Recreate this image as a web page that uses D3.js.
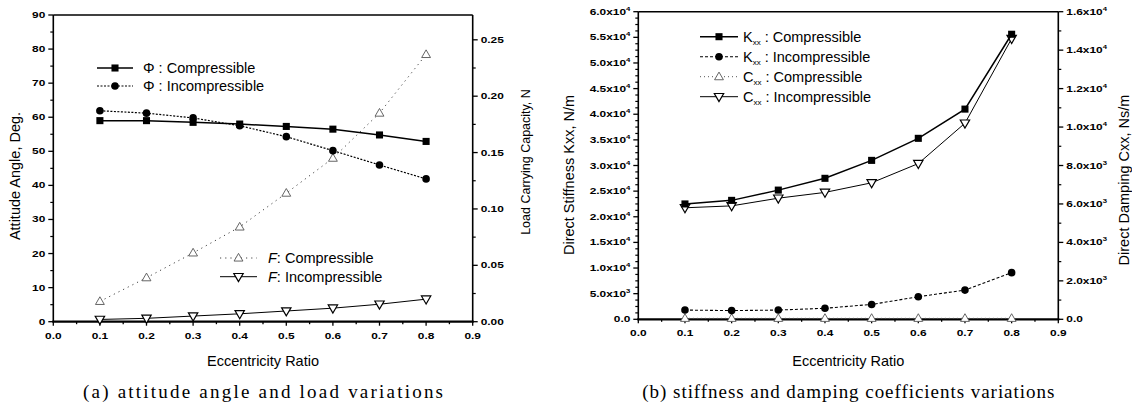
<!DOCTYPE html>
<html lang="en">
<head>
<meta charset="utf-8">
<title>bearing</title>
<script src="https://d3js.org/d3.v7.min.js"></script>
<style>
  body { margin: 0; background: #fff; }
  svg { font-family: Arial, "Liberation Sans", sans-serif; }
</style>
</head>
<body>
<svg id="chart" width="1132" height="410"></svg>
<script>
// eccentricity ratio (both panels)
const ecc = [0.1, 0.2, 0.3, 0.4, 0.5, 0.6, 0.7, 0.8];

// panel (a): attitude angle (deg) and load (N)
const phiComp   = [59.0, 59.0, 58.5, 58.0, 57.3, 56.5, 54.8, 52.9];
const phiIncomp = [61.9, 61.2, 59.8, 57.5, 54.3, 50.2, 46.0, 41.9];
const loadComp   = [0.018, 0.039, 0.061, 0.084, 0.114, 0.145, 0.185, 0.237];
const loadIncomp = [0.002, 0.003, 0.005, 0.007, 0.0095, 0.012, 0.0155, 0.020];

// panel (b): stiffness (N/m) and damping (Ns/m)
const kxxComp   = [22500, 23200, 25200, 27500, 31000, 35300, 41000, 55600];
const kxxIncomp = [1800, 1700, 1800, 2150, 2900, 4400, 5700, 9100];
const cxxComp   = [50, 50, 50, 50, 50, 50, 50, 50];
const cxxIncomp = [5800, 5900, 6300, 6600, 7100, 8100, 10200, 14600];

// tick values
const xTicks = [0, 0.1, 0.2, 0.3, 0.4, 0.5, 0.6, 0.7, 0.8, 0.9];
const angleTicks = [0, 10, 20, 30, 40, 50, 60, 70, 80, 90];
const loadTicks = [0, 0.05, 0.10, 0.15, 0.20, 0.25];
const stiffTicks = [0, 5000, 10000, 15000, 20000, 25000, 30000, 35000, 40000, 45000, 50000, 55000, 60000];
const dampTicks = [0, 2000, 4000, 6000, 8000, 10000, 12000, 14000, 16000];

const svg = d3.select('#chart');

// tick label, squat & wide like the scanned figure
function tickText(g, x, y, anchor, str, sup) {
  let t = g.append('text')
    .attr('transform', 'translate(' + x + ',' + y + ') scale(1.4,1)')
    .attr('text-anchor', anchor)
    .attr('font-size', 8.5)
    .attr('font-weight', 'bold')
    .attr('fill', '#000')
    .text(str);
  if (sup) {
    t.append('tspan').attr('dy', -4).attr('font-size', 5.5).text(sup);
  }
}

function sciLabel(v) {
  if (v === 0) return ['0.0', null];
  let e = Math.floor(Math.log10(v));
  let m = v / Math.pow(10, e);
  return [m.toFixed(1) + 'x10', String(e)];
}

function marker(g, type, x, y) {
  if (type === 'square') {
    g.append('path').attr('d', d3.symbol(d3.symbolSquare, 50)())
      .attr('transform', 'translate(' + x + ',' + y + ')').attr('fill', '#000');
  } else if (type === 'circle') {
    g.append('circle').attr('cx', x).attr('cy', y).attr('r', 3.8).attr('fill', '#000');
  } else if (type === 'up') {
    g.append('path').attr('d', d3.symbol(d3.symbolTriangle, 34)())
      .attr('transform', 'translate(' + x + ',' + (y + 0.5) + ')')
      .attr('fill', '#fff').attr('stroke', '#555').attr('stroke-width', 0.9);
  } else if (type === 'down') {
    g.append('path').attr('d', d3.symbol(d3.symbolTriangle, 38)())
      .attr('transform', 'translate(' + x + ',' + (y - 0.5) + ') rotate(180)')
      .attr('fill', '#fff').attr('stroke', '#000').attr('stroke-width', 1.2);
  }
}

function series(g, x, y, vals, st) {
  let line = d3.line().x((d, i) => x(ecc[i])).y(d => y(d));
  g.append('path').datum(vals).attr('d', line)
    .attr('fill', 'none').attr('stroke', st.color || '#000')
    .attr('stroke-width', st.width).attr('stroke-dasharray', st.dash || null);
  vals.forEach((v, i) => marker(g, st.marker, x(ecc[i]), y(v)));
}

function legendRow(g, x0, x1, tx, y, st, build) {
  g.append('line').attr('x1', x0).attr('x2', x1).attr('y1', y).attr('y2', y)
    .attr('stroke', st.color || '#000').attr('stroke-width', st.width)
    .attr('stroke-dasharray', st.dash || null);
  marker(g, st.marker, (x0 + x1) / 2, y);
  let t = g.append('text').attr('x', tx).attr('y', y + 5).attr('font-size', 14.5);
  build(t);
}

function frame(g, x, yL, yR, cfg) {
  let [x0, x1] = x.range();
  let yBot = yL.range()[0], yTop = yL.range()[1];
  // box lines
  g.append('line').attr('x1', x0).attr('x2', x1).attr('y1', yTop).attr('y2', yTop)
    .attr('stroke', '#000').attr('stroke-width', 1.6);
  g.append('line').attr('x1', x0).attr('x2', x0).attr('y1', yTop).attr('y2', yBot)
    .attr('stroke', '#000').attr('stroke-width', 1.6);
  g.append('line').attr('x1', x1).attr('x2', x1).attr('y1', yTop).attr('y2', yBot)
    .attr('stroke', '#000').attr('stroke-width', 1.6);
  g.append('line').attr('x1', x0 - 1).attr('x2', x1 + 1).attr('y1', yBot).attr('y2', yBot)
    .attr('stroke', '#000').attr('stroke-width', 2.2);

  // x ticks
  xTicks.forEach((t, i) => {
    g.append('line').attr('x1', x(t)).attr('x2', x(t)).attr('y1', yBot).attr('y2', yBot + 4)
      .attr('stroke', '#000').attr('stroke-width', 1.3);
    tickText(g, x(t), yBot + 17, 'middle', t.toFixed(1));
    if (i < xTicks.length - 1) {
      let m = (t + xTicks[i + 1]) / 2;
      g.append('line').attr('x1', x(m)).attr('x2', x(m)).attr('y1', yBot).attr('y2', yBot + 2.5)
        .attr('stroke', '#000').attr('stroke-width', 1.3);
    }
  });

  // left ticks
  cfg.leftTicks.forEach((t, i) => {
    let yy = yL(t);
    g.append('line').attr('x1', x0 - 5).attr('x2', x0).attr('y1', yy).attr('y2', yy)
      .attr('stroke', '#000').attr('stroke-width', 1.3);
    let lab = cfg.leftFmt(t);
    tickText(g, x0 - 8, yy + 3, 'end', lab[0], lab[1]);
    if (i < cfg.leftTicks.length - 1) {
      let step = (cfg.leftTicks[i + 1] - t) / cfg.leftMinor;
      for (let k = 1; k < cfg.leftMinor; k++) {
        let ym = yL(t + k * step);
        g.append('line').attr('x1', x0 - 3).attr('x2', x0).attr('y1', ym).attr('y2', ym)
          .attr('stroke', '#000').attr('stroke-width', 1.2);
      }
    }
  });

  // right ticks
  cfg.rightTicks.forEach((t, i) => {
    let yy = yR(t);
    g.append('line').attr('x1', x1).attr('x2', x1 + 5).attr('y1', yy).attr('y2', yy)
      .attr('stroke', '#000').attr('stroke-width', 1.3);
    let lab = cfg.rightFmt(t);
    tickText(g, x1 + 8, yy + 3, 'start', lab[0], lab[1]);
    let next = i < cfg.rightTicks.length - 1 ? cfg.rightTicks[i + 1] : null;
    if (next !== null) {
      let ym = yR((t + next) / 2);
      g.append('line').attr('x1', x1).attr('x2', x1 + 3).attr('y1', ym).attr('y2', ym)
        .attr('stroke', '#000').attr('stroke-width', 1.2);
    }
  });

  // axis titles
  let xc = (x0 + x1) / 2;
  g.append('text').attr('x', xc).attr('y', 366).attr('text-anchor', 'middle')
    .attr('font-size', 14.5).text('Eccentricity Ratio');
  g.append('text')
    .attr('transform', 'translate(' + cfg.leftTitleX + ',' + cfg.leftTitleY + ') rotate(-90)')
    .attr('text-anchor', 'middle').attr('font-size', cfg.leftTitleSize).text(cfg.leftTitle);
  g.append('text')
    .attr('transform', 'translate(' + cfg.rightTitleX + ',' + cfg.rightTitleY + ') rotate(-90)')
    .attr('text-anchor', 'middle').attr('font-size', cfg.rightTitleSize).text(cfg.rightTitle);
  g.append('text').attr('x', xc).attr('y', 398).attr('text-anchor', 'middle')
    .attr('font-family', '"Liberation Serif", "DejaVu Serif", serif')
    .attr('font-size', 19).attr('textLength', cfg.captionLen).attr('lengthAdjust', 'spacing')
    .text(cfg.caption);
}

// ---------- panel (a)
const gA = svg.append('g');
const xA = d3.scaleLinear().domain([0, 0.9]).range([53.3, 472.7]);
const yA = d3.scaleLinear().domain([0, 90]).range([321.7, 15]);
const yA2 = d3.scaleLinear().domain([0, 0.272]).range([321.7, 15]);

frame(gA, xA, yA, yA2, {
  leftTicks: angleTicks, leftMinor: 2, leftFmt: t => [String(t), null],
  rightTicks: loadTicks, rightFmt: t => [t.toFixed(2), null],
  leftTitle: 'Attitude Angle, Deg.', leftTitleX: 20, leftTitleY: 176, leftTitleSize: 14.5,
  rightTitle: 'Load Carrying Capacity, N', rightTitleX: 530, rightTitleY: 162, rightTitleSize: 12.5,
  caption: '(a) attitude angle and load variations', captionLen: 360
});

const stPhiC = { marker: 'square', width: 1.5 };
const stPhiI = { marker: 'circle', width: 1.2, dash: '2,1.5' };
const stFC = { marker: 'up', width: 1, dash: '1.2,4', color: '#444' };
const stFI = { marker: 'down', width: 1 };

series(gA, xA, yA2, loadComp, stFC);
series(gA, xA, yA, phiIncomp, stPhiI);
series(gA, xA, yA, phiComp, stPhiC);
series(gA, xA, yA2, loadIncomp, stFI);

legendRow(gA, 97, 133, 143, 68, stPhiC, t => t.text('\u03A6 : Compressible'));
legendRow(gA, 97, 133, 143, 86, stPhiI, t => t.text('\u03A6 : Incompressible'));
legendRow(gA, 220, 257, 268, 258, stFC, t => {
  t.append('tspan').attr('font-style', 'italic').text('F');
  t.append('tspan').text(': Compressible');
});
legendRow(gA, 220, 257, 268, 276.7, stFI, t => {
  t.append('tspan').attr('font-style', 'italic').text('F');
  t.append('tspan').text(': Incompressible');
});

// ---------- panel (b)
const gB = svg.append('g');
const xB = d3.scaleLinear().domain([0, 0.9]).range([638.3, 1058.3]);
const yB = d3.scaleLinear().domain([0, 60000]).range([319.3, 11.7]);
const yB2 = d3.scaleLinear().domain([0, 16000]).range([319.3, 11.7]);

frame(gB, xB, yB, yB2, {
  leftTicks: stiffTicks, leftMinor: 4, leftFmt: sciLabel,
  rightTicks: dampTicks, rightFmt: sciLabel,
  leftTitle: 'Direct Stiffness Kxx, N/m', leftTitleX: 574, leftTitleY: 175, leftTitleSize: 14.5,
  rightTitle: 'Direct Damping Cxx, Ns/m', rightTitleX: 1129, rightTitleY: 180, rightTitleSize: 14.5,
  caption: '(b) stiffness and damping coefficients variations', captionLen: 412
});

const stKC = { marker: 'square', width: 1.5 };
const stKI = { marker: 'circle', width: 1.1, dash: '3,2' };
const stCC = { marker: 'up', width: 1, dash: '1,3', color: '#555' };
const stCI = { marker: 'down', width: 1 };

series(gB, xB, yB2, cxxComp, stCC);
series(gB, xB, yB, kxxIncomp, stKI);
series(gB, xB, yB2, cxxIncomp, stCI);
series(gB, xB, yB, kxxComp, stKC);

function subLabel(sym, rest) {
  return t => {
    t.append('tspan').text(sym);
    t.append('tspan').attr('font-size', 8).attr('dy', 3).text('xx');
    t.append('tspan').attr('dy', -3).text(rest);
  };
}
legendRow(gB, 700, 738, 743, 36.7, stKC, subLabel('K', ' : Compressible'));
legendRow(gB, 700, 738, 743, 56.7, stKI, subLabel('K', ' : Incompressible'));
legendRow(gB, 700, 738, 743, 76.7, stCC, subLabel('C', ' : Compressible'));
legendRow(gB, 700, 738, 743, 96.7, stCI, subLabel('C', ' : Incompressible'));
</script>
</body>
</html>
